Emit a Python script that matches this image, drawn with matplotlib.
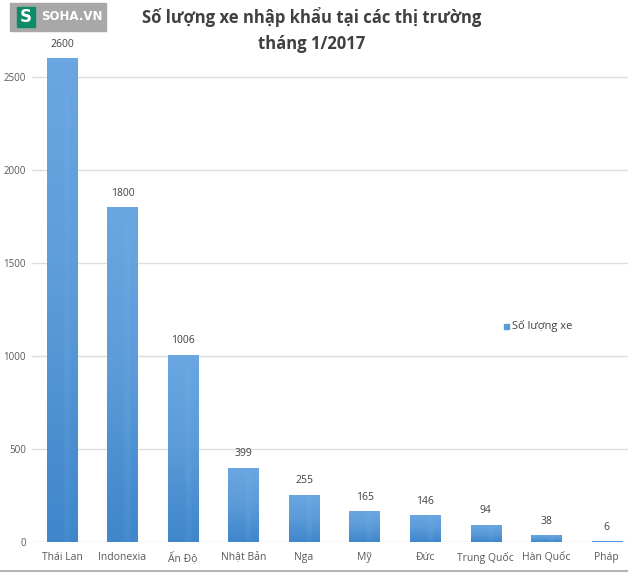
import matplotlib

matplotlib.use("Agg")
import matplotlib.pyplot as plt
import numpy as np
from matplotlib.colors import LinearSegmentedColormap
from matplotlib.patches import Rectangle

plt.rcParams["font.family"] = ["Open Sans", "DejaVu Sans"]

markets = ["Thái Lan", "Indonexia", "Ấn Độ", "Nhật Bản", "Nga", "Mỹ", "Đức",
           "Trung Quốc", "Hàn Quốc", "Pháp"]
cars = [2600, 1800, 1006, 399, 255, 165, 146, 94, 38, 6]
yticks = [0, 500, 1000, 1500, 2000, 2500]
title = "Số lượng xe nhập khẩu tại các thị trường\ntháng 1/2017"
series_name = "Số lượng xe"

W, H = 628, 574
fig = plt.figure(figsize=(W / 100, H / 100), dpi=100)
fig.patch.set_facecolor("white")

# axes placed in pixel coords; the right edge runs past the cropped image
left, right, bottom, top = 31.7, 637, 542, 21
ax = fig.add_axes([left / W, (H - bottom) / H, (right - left) / W, (bottom - top) / H])
ax.set_xlim(-0.5, len(markets) - 0.5)
ax.set_ylim(0, 2800)

bar_col = "#5b9bd5"
grad = LinearSegmentedColormap.from_list("g", ["#3f86cb", "#5b9bd8", "#6aa7e2"])
bars = ax.bar(range(len(markets)), cars, width=0.5, color=bar_col, zorder=3,
              linewidth=0)
for b in bars:
    x0, w, h = b.get_x(), b.get_width(), b.get_height()
    # vertical gradient, darker at the base, with a faint light stripe
    col = np.linspace(0, 1, 64)[:, None] * np.ones((1, 16))
    col[:, 9:12] = np.clip(col[:, 9:12] + 0.12, 0, 1)
    im = ax.imshow(col, cmap=grad, origin="lower", aspect="auto", zorder=3.5,
                   extent=(x0, x0 + w, 0, h), vmin=0, vmax=1)
    im.set_clip_path(b)
for i, v in enumerate(cars):
    ax.annotate(str(v), (i, v), xytext=(0, 6), textcoords="offset points",
                ha="center", va="bottom", fontsize=7.5, color="#404040")
ax.set_xlim(-0.5, len(markets) - 0.5)
ax.set_ylim(0, 2800)

ax.set_yticks(yticks)
ax.set_xticks(range(len(markets)))
ax.set_xticklabels(markets)
ax.tick_params(axis="both", length=0, labelsize=7.5, labelcolor="#595959")
ax.tick_params(axis="x", pad=7)
ax.tick_params(axis="y", pad=4, labelsize=7)
ax.grid(axis="y", color="#dedede", linewidth=1, zorder=0)
for s in ax.spines.values():
    s.set_visible(False)

fig.text(312 / W, 1 - 30 / H, title, ha="center", va="center", fontsize=12,
         fontweight="bold", color="#404040", linespacing=1.55)

# legend entry
fig.patches.append(Rectangle((504 / W, 1 - 329 / H), 5 / W, 5 / H,
                             transform=fig.transFigure, color=bar_col))
fig.text(512 / W, 1 - 326 / H, series_name, ha="left", va="center",
         fontsize=8, color="#404040")

# SOHA.VN logo
fig.patches.append(Rectangle((10 / W, 1 - 31 / H), 96 / W, 28 / H,
                             transform=fig.transFigure, color="#a8a8a8"))
fig.patches.append(Rectangle((17 / W, 1 - 27 / H), 18 / W, 20 / H,
                             transform=fig.transFigure, color="#0e8a68"))
fig.text(26 / W, 1 - 17 / H, "S", ha="center", va="center", fontsize=12,
         fontweight="bold", color="white", family="DejaVu Sans")
fig.text(41 / W, 1 - 17 / H, "SOHA.VN", ha="left", va="center", fontsize=8.5,
         fontweight="bold", color="white", family="DejaVu Sans")

# bottom border
fig.add_artist(plt.Line2D([0, 1], [1 - 571 / H] * 2, transform=fig.transFigure,
                          color="#b5b5b5", linewidth=1.5))

fig.savefig("out.png", dpi=100)
